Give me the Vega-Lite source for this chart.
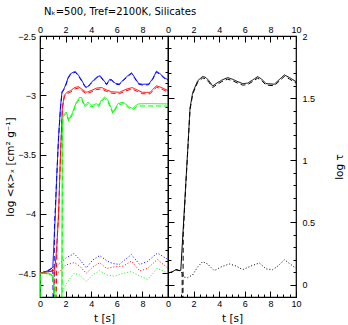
{
  "$schema": "https://vega.github.io/schema/vega-lite/v6.json",
  "padding": {"left": 4, "top": 7, "right": 2, "bottom": 2},
  "bounds": "flush",
  "spacing": 0,
  "title": {"text": "Nₖ=500, Tref=2100K, Silicates", "anchor": "start", "frame": "group", "offset": 4.5, "dx": 4, "font": "DejaVu Sans", "fontSize": 10, "fontWeight": "normal", "color": "black"},
  "config": {
    "view": {"stroke": "black", "strokeWidth": 1.2},
    "axis": {"grid": false, "domain": false, "labelFont": "Liberation Sans", "labelFontSize": 9, "labelColor": "black", "tickColor": "black", "titleFont": "DejaVu Sans", "titleFontSize": 10.5, "titleFontWeight": "normal", "titleColor": "black", "labelFlush": false, "labelOverlap": false, "labelBound": false},
    "line": {"strokeWidth": 1, "clip": true}
  },
  "datasets": {
    "kappa": [
      {"t":0,"v":-4.5,"c":"blue","s":"solid"},{"t":0.3,"v":-4.49,"c":"blue","s":"solid"},{"t":0.6,"v":-4.48,"c":"blue","s":"solid"},{"t":0.9,"v":-4.46,"c":"blue","s":"solid"},{"t":1.0,"v":-4.45,"c":"blue","s":"solid"},{"t":1.2,"v":-4.0,"c":"blue","s":"solid"},{"t":1.3,"v":-3.7,"c":"blue","s":"solid"},{"t":1.45,"v":-3.35,"c":"blue","s":"solid"},{"t":1.6,"v":-3.1,"c":"blue","s":"solid"},{"t":1.72,"v":-2.97,"c":"blue","s":"solid"},{"t":1.85,"v":-2.95,"c":"blue","s":"solid"},{"t":2.03,"v":-2.905,"c":"blue","s":"solid"},{"t":2.2,"v":-2.85,"c":"blue","s":"solid"},{"t":2.37,"v":-2.82,"c":"blue","s":"solid"},{"t":2.6,"v":-2.805,"c":"blue","s":"solid"},{"t":2.76,"v":-2.8,"c":"blue","s":"solid"},{"t":3.0,"v":-2.83,"c":"blue","s":"solid"},{"t":3.28,"v":-2.877,"c":"blue","s":"solid"},{"t":3.5,"v":-2.92,"c":"blue","s":"solid"},{"t":3.67,"v":-2.933,"c":"blue","s":"solid"},{"t":3.9,"v":-2.905,"c":"blue","s":"solid"},{"t":4.2,"v":-2.87,"c":"blue","s":"solid"},{"t":4.45,"v":-2.845,"c":"blue","s":"solid"},{"t":4.7,"v":-2.835,"c":"blue","s":"solid"},{"t":4.95,"v":-2.87,"c":"blue","s":"solid"},{"t":5.2,"v":-2.905,"c":"blue","s":"solid"},{"t":5.45,"v":-2.865,"c":"blue","s":"solid"},{"t":5.6,"v":-2.868,"c":"blue","s":"solid"},{"t":5.9,"v":-2.9,"c":"blue","s":"solid"},{"t":6.2,"v":-2.905,"c":"blue","s":"solid"},{"t":6.5,"v":-2.87,"c":"blue","s":"solid"},{"t":6.8,"v":-2.84,"c":"blue","s":"solid"},{"t":7.15,"v":-2.81,"c":"blue","s":"solid"},{"t":7.4,"v":-2.85,"c":"blue","s":"solid"},{"t":7.7,"v":-2.9,"c":"blue","s":"solid"},{"t":8.0,"v":-2.907,"c":"blue","s":"solid"},{"t":8.5,"v":-2.905,"c":"blue","s":"solid"},{"t":8.8,"v":-2.86,"c":"blue","s":"solid"},{"t":9.1,"v":-2.797,"c":"blue","s":"solid"},{"t":9.4,"v":-2.82,"c":"blue","s":"solid"},{"t":9.7,"v":-2.85,"c":"blue","s":"solid"},{"t":10,"v":-2.87,"c":"blue","s":"solid"},

      {"t":0,"v":-4.5,"c":"blue","s":"dashed"},{"t":0.3,"v":-4.49,"c":"blue","s":"dashed"},{"t":0.6,"v":-4.48,"c":"blue","s":"dashed"},{"t":0.9,"v":-4.46,"c":"blue","s":"dashed"},{"t":1.0,"v":-4.45,"c":"blue","s":"dashed"},{"t":1.04,"v":-4.9,"c":"blue","s":"dashed"},{"t":1.08,"v":-4.9,"c":"blue","s":"dashed"},{"t":1.13,"v":-4.1,"c":"blue","s":"dashed"},{"t":1.3,"v":-3.71,"c":"blue","s":"dashed"},{"t":1.45,"v":-3.36,"c":"blue","s":"dashed"},{"t":1.6,"v":-3.11,"c":"blue","s":"dashed"},{"t":1.72,"v":-2.977,"c":"blue","s":"dashed"},{"t":1.85,"v":-2.956,"c":"blue","s":"dashed"},{"t":2.03,"v":-2.911,"c":"blue","s":"dashed"},{"t":2.2,"v":-2.856,"c":"blue","s":"dashed"},{"t":2.37,"v":-2.826,"c":"blue","s":"dashed"},{"t":2.6,"v":-2.811,"c":"blue","s":"dashed"},{"t":2.76,"v":-2.806,"c":"blue","s":"dashed"},{"t":3.0,"v":-2.836,"c":"blue","s":"dashed"},{"t":3.28,"v":-2.883,"c":"blue","s":"dashed"},{"t":3.5,"v":-2.926,"c":"blue","s":"dashed"},{"t":3.67,"v":-2.939,"c":"blue","s":"dashed"},{"t":3.9,"v":-2.911,"c":"blue","s":"dashed"},{"t":4.2,"v":-2.876,"c":"blue","s":"dashed"},{"t":4.45,"v":-2.851,"c":"blue","s":"dashed"},{"t":4.7,"v":-2.841,"c":"blue","s":"dashed"},{"t":4.95,"v":-2.876,"c":"blue","s":"dashed"},{"t":5.2,"v":-2.911,"c":"blue","s":"dashed"},{"t":5.45,"v":-2.871,"c":"blue","s":"dashed"},{"t":5.6,"v":-2.874,"c":"blue","s":"dashed"},{"t":5.9,"v":-2.906,"c":"blue","s":"dashed"},{"t":6.2,"v":-2.911,"c":"blue","s":"dashed"},{"t":6.5,"v":-2.876,"c":"blue","s":"dashed"},{"t":6.8,"v":-2.846,"c":"blue","s":"dashed"},{"t":7.15,"v":-2.816,"c":"blue","s":"dashed"},{"t":7.4,"v":-2.856,"c":"blue","s":"dashed"},{"t":7.7,"v":-2.906,"c":"blue","s":"dashed"},{"t":8.0,"v":-2.913,"c":"blue","s":"dashed"},{"t":8.5,"v":-2.911,"c":"blue","s":"dashed"},{"t":8.8,"v":-2.866,"c":"blue","s":"dashed"},{"t":9.1,"v":-2.803,"c":"blue","s":"dashed"},{"t":9.4,"v":-2.826,"c":"blue","s":"dashed"},{"t":9.7,"v":-2.856,"c":"blue","s":"dashed"},{"t":10,"v":-2.876,"c":"blue","s":"dashed"},

      {"t":0,"v":-4.5,"c":"blue","s":"dotted"},{"t":0.5,"v":-4.485,"c":"blue","s":"dotted"},{"t":1.0,"v":-4.45,"c":"blue","s":"dotted"},{"t":1.2,"v":-4.44,"c":"blue","s":"dotted"},{"t":1.5,"v":-4.42,"c":"blue","s":"dotted"},{"t":2.05,"v":-4.37,"c":"blue","s":"dotted"},{"t":2.66,"v":-4.334,"c":"blue","s":"dotted"},{"t":3.1,"v":-4.384,"c":"blue","s":"dotted"},{"t":3.62,"v":-4.454,"c":"blue","s":"dotted"},{"t":4.1,"v":-4.39,"c":"blue","s":"dotted"},{"t":4.66,"v":-4.351,"c":"blue","s":"dotted"},{"t":5.3,"v":-4.4,"c":"blue","s":"dotted"},{"t":5.7,"v":-4.418,"c":"blue","s":"dotted"},{"t":6.2,"v":-4.425,"c":"blue","s":"dotted"},{"t":6.7,"v":-4.38,"c":"blue","s":"dotted"},{"t":7.14,"v":-4.343,"c":"blue","s":"dotted"},{"t":7.79,"v":-4.426,"c":"blue","s":"dotted"},{"t":8.4,"v":-4.4,"c":"blue","s":"dotted"},{"t":9.17,"v":-4.33,"c":"blue","s":"dotted"},{"t":10,"v":-4.384,"c":"blue","s":"dotted"},

      {"t":0,"v":-4.5,"c":"red","s":"solid"},{"t":0.5,"v":-4.49,"c":"red","s":"solid"},{"t":1.0,"v":-4.48,"c":"red","s":"solid"},{"t":1.15,"v":-4.47,"c":"red","s":"solid"},{"t":1.3,"v":-4.3,"c":"red","s":"solid"},{"t":1.45,"v":-4.0,"c":"red","s":"solid"},{"t":1.6,"v":-3.5,"c":"red","s":"solid"},{"t":1.75,"v":-3.1,"c":"red","s":"solid"},{"t":1.9,"v":-3.0,"c":"red","s":"solid"},{"t":2.1,"v":-2.975,"c":"red","s":"solid"},{"t":2.4,"v":-2.96,"c":"red","s":"solid"},{"t":2.7,"v":-2.935,"c":"red","s":"solid"},{"t":3.0,"v":-2.927,"c":"red","s":"solid"},{"t":3.3,"v":-2.95,"c":"red","s":"solid"},{"t":3.6,"v":-2.975,"c":"red","s":"solid"},{"t":4.0,"v":-2.96,"c":"red","s":"solid"},{"t":4.4,"v":-2.94,"c":"red","s":"solid"},{"t":4.8,"v":-2.933,"c":"red","s":"solid"},{"t":5.2,"v":-2.955,"c":"red","s":"solid"},{"t":5.6,"v":-2.97,"c":"red","s":"solid"},{"t":6.2,"v":-2.975,"c":"red","s":"solid"},{"t":6.7,"v":-2.95,"c":"red","s":"solid"},{"t":7.2,"v":-2.935,"c":"red","s":"solid"},{"t":7.6,"v":-2.955,"c":"red","s":"solid"},{"t":8.0,"v":-2.975,"c":"red","s":"solid"},{"t":8.6,"v":-2.975,"c":"red","s":"solid"},{"t":8.9,"v":-2.94,"c":"red","s":"solid"},{"t":9.1,"v":-2.92,"c":"red","s":"solid"},{"t":9.5,"v":-2.935,"c":"red","s":"solid"},{"t":10,"v":-2.96,"c":"red","s":"solid"},

      {"t":0,"v":-4.5,"c":"red","s":"dashed"},{"t":0.5,"v":-4.49,"c":"red","s":"dashed"},{"t":1.0,"v":-4.48,"c":"red","s":"dashed"},{"t":1.15,"v":-4.47,"c":"red","s":"dashed"},{"t":1.2,"v":-4.9,"c":"red","s":"dashed"},{"t":1.25,"v":-4.9,"c":"red","s":"dashed"},{"t":1.32,"v":-4.25,"c":"red","s":"dashed"},{"t":1.45,"v":-4.01,"c":"red","s":"dashed"},{"t":1.6,"v":-3.51,"c":"red","s":"dashed"},{"t":1.75,"v":-3.11,"c":"red","s":"dashed"},{"t":1.9,"v":-3.012,"c":"red","s":"dashed"},{"t":2.1,"v":-2.987,"c":"red","s":"dashed"},{"t":2.4,"v":-2.972,"c":"red","s":"dashed"},{"t":2.7,"v":-2.947,"c":"red","s":"dashed"},{"t":3.0,"v":-2.939,"c":"red","s":"dashed"},{"t":3.3,"v":-2.962,"c":"red","s":"dashed"},{"t":3.6,"v":-2.987,"c":"red","s":"dashed"},{"t":4.0,"v":-2.972,"c":"red","s":"dashed"},{"t":4.4,"v":-2.952,"c":"red","s":"dashed"},{"t":4.8,"v":-2.945,"c":"red","s":"dashed"},{"t":5.2,"v":-2.967,"c":"red","s":"dashed"},{"t":5.6,"v":-2.982,"c":"red","s":"dashed"},{"t":6.2,"v":-2.987,"c":"red","s":"dashed"},{"t":6.7,"v":-2.962,"c":"red","s":"dashed"},{"t":7.2,"v":-2.947,"c":"red","s":"dashed"},{"t":7.6,"v":-2.967,"c":"red","s":"dashed"},{"t":8.0,"v":-2.987,"c":"red","s":"dashed"},{"t":8.6,"v":-2.987,"c":"red","s":"dashed"},{"t":8.9,"v":-2.952,"c":"red","s":"dashed"},{"t":9.1,"v":-2.932,"c":"red","s":"dashed"},{"t":9.5,"v":-2.947,"c":"red","s":"dashed"},{"t":10,"v":-2.972,"c":"red","s":"dashed"},

      {"t":0,"v":-4.5,"c":"red","s":"dotted"},{"t":1.15,"v":-4.47,"c":"red","s":"dotted"},{"t":1.3,"v":-4.5,"c":"red","s":"dotted"},{"t":1.6,"v":-4.48,"c":"red","s":"dotted"},{"t":2.0,"v":-4.43,"c":"red","s":"dotted"},{"t":2.7,"v":-4.41,"c":"red","s":"dotted"},{"t":3.1,"v":-4.44,"c":"red","s":"dotted"},{"t":3.62,"v":-4.5,"c":"red","s":"dotted"},{"t":4.1,"v":-4.45,"c":"red","s":"dotted"},{"t":4.66,"v":-4.41,"c":"red","s":"dotted"},{"t":5.2,"v":-4.46,"c":"red","s":"dotted"},{"t":5.83,"v":-4.445,"c":"red","s":"dotted"},{"t":6.5,"v":-4.44,"c":"red","s":"dotted"},{"t":7.14,"v":-4.397,"c":"red","s":"dotted"},{"t":7.79,"v":-4.48,"c":"red","s":"dotted"},{"t":8.4,"v":-4.46,"c":"red","s":"dotted"},{"t":9.17,"v":-4.384,"c":"red","s":"dotted"},{"t":10,"v":-4.458,"c":"red","s":"dotted"},

      {"t":0,"v":-4.9,"c":"green","s":"solid"},{"t":0.02,"v":-4.5,"c":"green","s":"solid"},{"t":0.5,"v":-4.5,"c":"green","s":"solid"},{"t":0.9,"v":-4.51,"c":"green","s":"solid"},{"t":1.0,"v":-4.54,"c":"green","s":"solid"},{"t":1.1,"v":-4.62,"c":"green","s":"solid"},{"t":1.17,"v":-4.75,"c":"green","s":"solid"},{"t":1.6,"v":-4.9,"c":"green","s":"solid"},{"t":1.7,"v":-4.9,"c":"green","s":"solid"},{"t":1.74,"v":-3.3,"c":"green","s":"solid"},{"t":1.8,"v":-3.17,"c":"green","s":"solid"},{"t":2.05,"v":-3.14,"c":"green","s":"solid"},{"t":2.24,"v":-3.206,"c":"green","s":"solid"},{"t":2.5,"v":-3.156,"c":"green","s":"solid"},{"t":2.84,"v":-3.058,"c":"green","s":"solid"},{"t":3.1,"v":-3.017,"c":"green","s":"solid"},{"t":3.25,"v":-3.02,"c":"green","s":"solid"},{"t":3.49,"v":-3.086,"c":"green","s":"solid"},{"t":3.75,"v":-3.058,"c":"green","s":"solid"},{"t":4.0,"v":-3.086,"c":"green","s":"solid"},{"t":4.4,"v":-3.072,"c":"green","s":"solid"},{"t":4.6,"v":-3.08,"c":"green","s":"solid"},{"t":4.8,"v":-3.04,"c":"green","s":"solid"},{"t":5.05,"v":-3.015,"c":"green","s":"solid"},{"t":5.3,"v":-3.04,"c":"green","s":"solid"},{"t":5.7,"v":-3.142,"c":"green","s":"solid"},{"t":6.1,"v":-3.07,"c":"green","s":"solid"},{"t":6.5,"v":-3.058,"c":"green","s":"solid"},{"t":7.0,"v":-3.1,"c":"green","s":"solid"},{"t":7.25,"v":-3.11,"c":"green","s":"solid"},{"t":7.5,"v":-3.085,"c":"green","s":"solid"},{"t":7.7,"v":-3.072,"c":"green","s":"solid"},{"t":8.5,"v":-3.07,"c":"green","s":"solid"},{"t":10,"v":-3.072,"c":"green","s":"solid"},

      {"t":0,"v":-4.9,"c":"green","s":"dashed"},{"t":0.02,"v":-4.5,"c":"green","s":"dashed"},{"t":0.5,"v":-4.5,"c":"green","s":"dashed"},{"t":0.9,"v":-4.51,"c":"green","s":"dashed"},{"t":1.0,"v":-4.54,"c":"green","s":"dashed"},{"t":1.1,"v":-4.62,"c":"green","s":"dashed"},{"t":1.17,"v":-4.75,"c":"green","s":"dashed"},{"t":1.6,"v":-4.9,"c":"green","s":"dashed"},{"t":1.72,"v":-4.9,"c":"green","s":"dashed"},{"t":1.76,"v":-3.31,"c":"green","s":"dashed"},{"t":1.8,"v":-3.182,"c":"green","s":"dashed"},{"t":2.05,"v":-3.152,"c":"green","s":"dashed"},{"t":2.24,"v":-3.218,"c":"green","s":"dashed"},{"t":2.5,"v":-3.168,"c":"green","s":"dashed"},{"t":2.84,"v":-3.07,"c":"green","s":"dashed"},{"t":3.1,"v":-3.029,"c":"green","s":"dashed"},{"t":3.25,"v":-3.032,"c":"green","s":"dashed"},{"t":3.49,"v":-3.098,"c":"green","s":"dashed"},{"t":3.75,"v":-3.07,"c":"green","s":"dashed"},{"t":4.0,"v":-3.098,"c":"green","s":"dashed"},{"t":4.4,"v":-3.084,"c":"green","s":"dashed"},{"t":4.6,"v":-3.092,"c":"green","s":"dashed"},{"t":4.8,"v":-3.052,"c":"green","s":"dashed"},{"t":5.05,"v":-3.027,"c":"green","s":"dashed"},{"t":5.3,"v":-3.052,"c":"green","s":"dashed"},{"t":5.7,"v":-3.154,"c":"green","s":"dashed"},{"t":6.1,"v":-3.082,"c":"green","s":"dashed"},{"t":6.5,"v":-3.07,"c":"green","s":"dashed"},{"t":7.0,"v":-3.112,"c":"green","s":"dashed"},{"t":7.25,"v":-3.122,"c":"green","s":"dashed"},{"t":7.5,"v":-3.1,"c":"green","s":"dashed"},{"t":7.7,"v":-3.09,"c":"green","s":"dashed"},{"t":8.5,"v":-3.09,"c":"green","s":"dashed"},{"t":10,"v":-3.09,"c":"green","s":"dashed"},

      {"t":0.02,"v":-4.5,"c":"green","s":"dotted"},{"t":0.9,"v":-4.51,"c":"green","s":"dotted"},{"t":1.0,"v":-4.54,"c":"green","s":"dotted"},{"t":1.2,"v":-4.62,"c":"green","s":"dotted"},{"t":1.35,"v":-4.72,"c":"green","s":"dotted"},{"t":1.6,"v":-4.72,"c":"green","s":"dotted"},{"t":1.8,"v":-4.64,"c":"green","s":"dotted"},{"t":2.19,"v":-4.566,"c":"green","s":"dotted"},{"t":2.66,"v":-4.5,"c":"green","s":"dotted"},{"t":3.1,"v":-4.515,"c":"green","s":"dotted"},{"t":3.62,"v":-4.57,"c":"green","s":"dotted"},{"t":4.1,"v":-4.515,"c":"green","s":"dotted"},{"t":4.66,"v":-4.478,"c":"green","s":"dotted"},{"t":5.2,"v":-4.515,"c":"green","s":"dotted"},{"t":5.83,"v":-4.524,"c":"green","s":"dotted"},{"t":6.5,"v":-4.5,"c":"green","s":"dotted"},{"t":7.14,"v":-4.486,"c":"green","s":"dotted"},{"t":7.79,"v":-4.524,"c":"green","s":"dotted"},{"t":8.4,"v":-4.552,"c":"green","s":"dotted"},{"t":9.17,"v":-4.458,"c":"green","s":"dotted"},{"t":10,"v":-4.5,"c":"green","s":"dotted"}
    ],
    "tau": [
      {"t":0,"v":0.094,"s":"solid"},{"t":0.3,"v":0.1,"s":"solid"},{"t":0.62,"v":0.12,"s":"solid"},{"t":0.88,"v":0.113,"s":"solid"},{"t":1.0,"v":0.115,"s":"solid"},{"t":1.2,"v":0.47,"s":"solid"},{"t":1.4,"v":0.83,"s":"solid"},{"t":1.55,"v":1.1,"s":"solid"},{"t":1.72,"v":1.42,"s":"solid"},{"t":1.93,"v":1.545,"s":"solid"},{"t":2.32,"v":1.64,"s":"solid"},{"t":2.71,"v":1.675,"s":"solid"},{"t":2.97,"v":1.665,"s":"solid"},{"t":3.2,"v":1.64,"s":"solid"},{"t":3.49,"v":1.598,"s":"solid"},{"t":3.75,"v":1.617,"s":"solid"},{"t":4.2,"v":1.645,"s":"solid"},{"t":4.66,"v":1.665,"s":"solid"},{"t":5.05,"v":1.652,"s":"solid"},{"t":5.4,"v":1.635,"s":"solid"},{"t":5.83,"v":1.617,"s":"solid"},{"t":6.2,"v":1.62,"s":"solid"},{"t":6.6,"v":1.645,"s":"solid"},{"t":7.0,"v":1.673,"s":"solid"},{"t":7.3,"v":1.655,"s":"solid"},{"t":7.66,"v":1.617,"s":"solid"},{"t":8.3,"v":1.612,"s":"solid"},{"t":8.7,"v":1.65,"s":"solid"},{"t":9.09,"v":1.687,"s":"solid"},{"t":9.5,"v":1.665,"s":"solid"},{"t":10,"v":1.633,"s":"solid"},

      {"t":0,"v":0.094,"s":"dashed"},{"t":0.3,"v":0.1,"s":"dashed"},{"t":0.62,"v":0.12,"s":"dashed"},{"t":0.88,"v":0.113,"s":"dashed"},{"t":1.0,"v":0.115,"s":"dashed"},{"t":1.1,"v":0.1,"s":"dashed"},{"t":1.13,"v":-0.4,"s":"dashed"},{"t":1.16,"v":-0.4,"s":"dashed"},{"t":1.19,"v":0.4,"s":"dashed"},{"t":1.4,"v":0.82,"s":"dashed"},{"t":1.55,"v":1.09,"s":"dashed"},{"t":1.72,"v":1.405,"s":"dashed"},{"t":1.93,"v":1.533,"s":"dashed"},{"t":2.32,"v":1.628,"s":"dashed"},{"t":2.71,"v":1.663,"s":"dashed"},{"t":2.97,"v":1.653,"s":"dashed"},{"t":3.2,"v":1.628,"s":"dashed"},{"t":3.49,"v":1.586,"s":"dashed"},{"t":3.75,"v":1.605,"s":"dashed"},{"t":4.2,"v":1.633,"s":"dashed"},{"t":4.66,"v":1.653,"s":"dashed"},{"t":5.05,"v":1.64,"s":"dashed"},{"t":5.4,"v":1.623,"s":"dashed"},{"t":5.83,"v":1.605,"s":"dashed"},{"t":6.2,"v":1.608,"s":"dashed"},{"t":6.6,"v":1.633,"s":"dashed"},{"t":7.0,"v":1.661,"s":"dashed"},{"t":7.3,"v":1.643,"s":"dashed"},{"t":7.66,"v":1.605,"s":"dashed"},{"t":8.3,"v":1.6,"s":"dashed"},{"t":8.7,"v":1.638,"s":"dashed"},{"t":9.09,"v":1.675,"s":"dashed"},{"t":9.5,"v":1.653,"s":"dashed"},{"t":10,"v":1.621,"s":"dashed"},

      {"t":0,"v":0.094,"s":"dotted"},{"t":0.3,"v":0.1,"s":"dotted"},{"t":0.62,"v":0.12,"s":"dotted"},{"t":0.88,"v":0.113,"s":"dotted"},{"t":1.0,"v":0.11,"s":"dotted"},{"t":1.27,"v":0.06,"s":"dotted"},{"t":1.53,"v":0.056,"s":"dotted"},{"t":1.93,"v":0.078,"s":"dotted"},{"t":2.3,"v":0.14,"s":"dotted"},{"t":2.71,"v":0.185,"s":"dotted"},{"t":3.1,"v":0.165,"s":"dotted"},{"t":3.61,"v":0.112,"s":"dotted"},{"t":4.1,"v":0.14,"s":"dotted"},{"t":4.79,"v":0.166,"s":"dotted"},{"t":5.3,"v":0.15,"s":"dotted"},{"t":5.83,"v":0.12,"s":"dotted"},{"t":6.5,"v":0.15,"s":"dotted"},{"t":7.14,"v":0.174,"s":"dotted"},{"t":7.66,"v":0.126,"s":"dotted"},{"t":8.18,"v":0.12,"s":"dotted"},{"t":8.6,"v":0.15,"s":"dotted"},{"t":9.09,"v":0.2,"s":"dotted"},{"t":10,"v":0.131,"s":"dotted"}
    ]
  },
  "hconcat": [
    {
      "width": 128, "height": 261,
      "data": {"name": "kappa"},
      "layer": [
        {
          "mark": {"type": "line", "clip": true},
          "encoding": {
            "x": {"field": "t", "type": "quantitative", "scale": {"domain": [0, 10], "nice": false},
              "axis": {"orient": "bottom", "values": [0,0.5,1,1.5,2,2.5,3,3.5,4,4.5,5,5.5,6,6.5,7,7.5,8,8.5,9,9.5,10],
                "labelExpr": "datum.value % 2 == 0 && datum.value < 10 ? '' + datum.value : ''",
                "tickSize": {"condition": {"test": "datum.value % 2 == 0", "value": -6}, "value": -3},
                "labelOverlap": false, "labelBound": false,
                "labelPadding": 8, "title": "t [s]", "titlePadding": 2}},
            "y": {"field": "v", "type": "quantitative", "scale": {"domain": [-4.7, -2.5], "nice": false, "zero": false},
              "axis": {"orient": "left", "values": [-4.7,-4.6,-4.5,-4.4,-4.3,-4.2,-4.1,-4,-3.9,-3.8,-3.7,-3.6,-3.5,-3.4,-3.3,-3.2,-3.1,-3,-2.9,-2.8,-2.7,-2.6,-2.5],
                "labelExpr": "abs(datum.value*2 - round(datum.value*2)) < 0.001 ? format(datum.value, '~g') : ''",
                "tickSize": {"condition": {"test": "abs(datum.value*2 - round(datum.value*2)) < 0.001", "value": -6}, "value": -3},
                "labelOverlap": false, "labelBound": false,
                "labelPadding": 10.5, "title": "log <κ>ₓ [cm² g⁻¹]", "titlePadding": 2.5}},
            "color": {"field": "c", "type": "nominal", "scale": {"domain": ["blue", "red", "green"], "range": ["#0000ff", "#ff0000", "#00ff00"]}, "legend": null},
            "strokeDash": {"field": "s", "type": "nominal", "scale": {"domain": ["solid", "dashed", "dotted"], "range": [[1, 0], [5, 3], [1, 2]]}, "legend": null}
          }
        },
        {
          "mark": {"type": "line", "opacity": 0},
          "encoding": {
            "x": {"field": "t", "type": "quantitative", "scale": {"domain": [0, 10], "nice": false},
              "axis": {"orient": "top", "values": [0,0.5,1,1.5,2,2.5,3,3.5,4,4.5,5,5.5,6,6.5,7,7.5,8,8.5,9,9.5,10],
                "labelExpr": "datum.value % 2 == 0 && datum.value < 10 ? '' + datum.value : ''",
                "tickSize": {"condition": {"test": "datum.value % 2 == 0", "value": -6}, "value": -3},
                "labelOverlap": false, "labelBound": false,
                "labelPadding": 7.5, "title": null}},
            "y": {"field": "v", "type": "quantitative", "scale": {"domain": [-4.7, -2.5], "nice": false, "zero": false},
              "axis": {"orient": "right", "values": [-4.7,-4.6,-4.5,-4.4,-4.3,-4.2,-4.1,-4,-3.9,-3.8,-3.7,-3.6,-3.5,-3.4,-3.3,-3.2,-3.1,-3,-2.9,-2.8,-2.7,-2.6,-2.5],
                "labels": false,
                "tickSize": {"condition": {"test": "abs(datum.value*2 - round(datum.value*2)) < 0.001", "value": -6}, "value": -3},
                "title": null}},
            "detail": {"field": "c"}
          }
        }
      ],
      "resolve": {"axis": {"x": "independent", "y": "independent"}}
    },
    {
      "width": 128, "height": 261,
      "data": {"name": "tau"},
      "layer": [
        {
          "mark": {"type": "line", "clip": true, "color": "black"},
          "encoding": {
            "x": {"field": "t", "type": "quantitative", "scale": {"domain": [0, 10], "nice": false},
              "axis": {"orient": "bottom", "values": [0,0.5,1,1.5,2,2.5,3,3.5,4,4.5,5,5.5,6,6.5,7,7.5,8,8.5,9,9.5,10],
                "labelExpr": "datum.value % 2 == 0 ? '' + datum.value : ''",
                "tickSize": {"condition": {"test": "datum.value % 2 == 0", "value": -6}, "value": -3},
                "labelOverlap": false, "labelBound": false,
                "labelPadding": 8, "title": "t [s]", "titlePadding": 2}},
            "y": {"field": "v", "type": "quantitative", "scale": {"domain": [-0.1, 2], "nice": false, "zero": false},
              "axis": {"orient": "right", "values": [-0.1,0,0.1,0.2,0.3,0.4,0.5,0.6,0.7,0.8,0.9,1,1.1,1.2,1.3,1.4,1.5,1.6,1.7,1.8,1.9,2],
                "labelExpr": "abs(datum.value*2 - round(datum.value*2)) < 0.001 ? format(datum.value, '~g') : ''",
                "tickSize": {"condition": {"test": "abs(datum.value*2 - round(datum.value*2)) < 0.001", "value": -6}, "value": -3},
                "labelOverlap": false, "labelBound": false,
                "labelPadding": 12, "title": "log τ", "titleAngle": 270, "titlePadding": 30}},
            "strokeDash": {"field": "s", "type": "nominal", "scale": {"domain": ["solid", "dashed", "dotted"], "range": [[1, 0], [5, 3], [1, 2]]}, "legend": null}
          }
        },
        {
          "mark": {"type": "line", "opacity": 0},
          "encoding": {
            "x": {"field": "t", "type": "quantitative", "scale": {"domain": [0, 10], "nice": false},
              "axis": {"orient": "top", "values": [0,0.5,1,1.5,2,2.5,3,3.5,4,4.5,5,5.5,6,6.5,7,7.5,8,8.5,9,9.5,10],
                "labelExpr": "datum.value % 2 == 0 ? '' + datum.value : ''",
                "tickSize": {"condition": {"test": "datum.value % 2 == 0", "value": -6}, "value": -3},
                "labelOverlap": false, "labelBound": false,
                "labelPadding": 7.5, "title": null}},
            "y": {"field": "v", "type": "quantitative", "scale": {"domain": [-0.1, 2], "nice": false, "zero": false},
              "axis": {"orient": "left", "values": [-0.1,0,0.1,0.2,0.3,0.4,0.5,0.6,0.7,0.8,0.9,1,1.1,1.2,1.3,1.4,1.5,1.6,1.7,1.8,1.9,2],
                "labels": false,
                "tickSize": {"condition": {"test": "abs(datum.value*2 - round(datum.value*2)) < 0.001", "value": -6}, "value": -3},
                "title": null}},
            "detail": {"field": "s"}
          }
        }
      ],
      "resolve": {"axis": {"x": "independent", "y": "independent"}}
    }
  ]
}
